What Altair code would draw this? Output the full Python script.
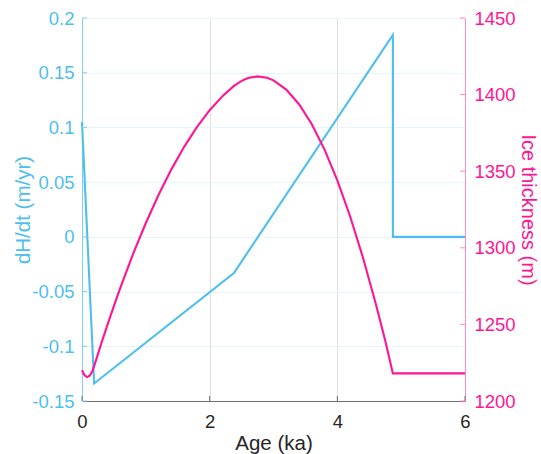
import altair as alt
import pandas as pd

# ---- data ----
age_dhdt = [0.0, 0.19, 2.38, 4.87, 4.87, 6.0]
dhdt = [0.105, -0.134, -0.033, 0.1845, 0.0, 0.0]

age_thick = [0.0, 0.04, 0.08, 0.12, 0.16, 0.19, 0.3, 0.4, 0.5, 0.6, 0.8, 1.0,
             1.2, 1.4, 1.6, 1.8, 2.0, 2.2, 2.38, 2.5, 2.6, 2.75, 2.9, 3.0, 3.2,
             3.4, 3.6, 3.8, 4.0, 4.2, 4.4, 4.6, 4.75, 4.87, 6.0]
thick = [1220, 1216.8, 1215.6, 1216.5, 1219.3, 1222.8, 1237.3, 1249.9, 1262.1,
         1273.9, 1296.0, 1316.2, 1334.6, 1351.2, 1365.9, 1378.8, 1389.8, 1399.0,
         1405.7, 1409.0, 1410.8, 1411.9, 1411.0, 1409.3, 1403.3, 1393.7, 1380.7,
         1364.1, 1344.0, 1320.6, 1293.8, 1263.8, 1239.5, 1218, 1218]

x_ticks = [0, 2, 4, 6]
left_ticks = [-0.15, -0.1, -0.05, 0, 0.05, 0.1, 0.15, 0.2]
right_ticks = [1200, 1250, 1300, 1350, 1400, 1450]

BLUE = "#4DBEEE"
PINK = "#FF1493"
DARK = "#262626"
FONT = "Liberation Sans"
W, H = 383, 383

df_b = pd.DataFrame({"age": age_dhdt, "v": dhdt, "i": list(range(len(age_dhdt)))})
df_p = pd.DataFrame({"age": age_thick, "h": thick})
df_xt = pd.DataFrame({"age": x_ticks})
df_lt = pd.DataFrame({"t": left_ticks})
df_rt = pd.DataFrame({"t": right_ticks})

xscale = alt.Scale(domain=[0, 6], nice=False, zero=False)
lscale = alt.Scale(domain=[-0.15, 0.2], nice=False, zero=False)
rscale = alt.Scale(domain=[1200, 1450], nice=False, zero=False)

x_axis = alt.Axis(values=x_ticks, title="Age (ka)", grid=True, gridColor="#E0E0E0",
                  tickSize=0, domainColor="#6E6E6E", labelColor=DARK, titleColor=DARK,
                  labelFontSize=18.5, titleFontSize=20.5, labelFont=FONT, titleFont=FONT,
                  labelFontWeight="normal", titleFontWeight="normal",
                  labelPadding=11, titlePadding=3, labelFlush=False)
X = alt.X("age:Q", scale=xscale, axis=x_axis)

blue = alt.Chart(df_b).mark_line(color=BLUE, strokeWidth=2.1).encode(
    x=X,
    y=alt.Y("v:Q", scale=lscale, axis=alt.Axis(
        orient="left", values=left_ticks, title="dH/dt (m/yr)", grid=True,
        gridColor="#E6F4FB", tickSize=0, domainColor="#7FD0F2", labelColor=BLUE,
        titleColor=BLUE, labelFontSize=18.5, titleFontSize=20.5, labelFont=FONT,
        titleFont=FONT, titleFontWeight="normal", labelPadding=8, titlePadding=-2,
        labelExpr="'' + datum.value", labelFlush=False)),
    order="i:Q",
)

pink = alt.Chart(df_p).mark_line(color=PINK, strokeWidth=2.1).encode(
    x=X,
    y=alt.Y("h:Q", scale=rscale, axis=alt.Axis(
        orient="right", values=right_ticks, title="Ice thickness (m)", grid=False,
        tickSize=0, domainColor="#FF8CC6", labelColor=PINK, titleColor=PINK,
        labelFontSize=18.5, titleFontSize=20, labelFont=FONT, titleFont=FONT,
        titleFontWeight="normal", labelPadding=9, titlePadding=2,
        labelExpr="'' + datum.value", labelFlush=False)),
)

xt = alt.Chart(df_xt).mark_rule(color="#6E6E6E", strokeWidth=1).encode(
    x=X,
    y=alt.value(H), y2=alt.value(H - 5),
)
lt = alt.Chart(df_lt).mark_rule(color="#7FD0F2", strokeWidth=1).encode(
    y=alt.Y("t:Q", scale=lscale, axis=None),
    x=alt.value(0), x2=alt.value(5),
)
rt = alt.Chart(df_rt).mark_rule(color="#FF8CC6", strokeWidth=1).encode(
    y=alt.Y("t:Q", scale=rscale, axis=None),
    x=alt.value(W - 5), x2=alt.value(W),
)

chart = alt.layer(blue, pink, xt, lt, rt).resolve_scale(y="independent").properties(
    width=W, height=H,
    autosize=alt.AutoSizeParams(type="none"),
    padding={"left": 82, "top": 18, "right": 76, "bottom": 53},
).configure_view(stroke="#6E6E6E", strokeWidth=1).configure(background="white")

chart.save("out.html", embed_options={"renderer": "svg", "actions": False})
